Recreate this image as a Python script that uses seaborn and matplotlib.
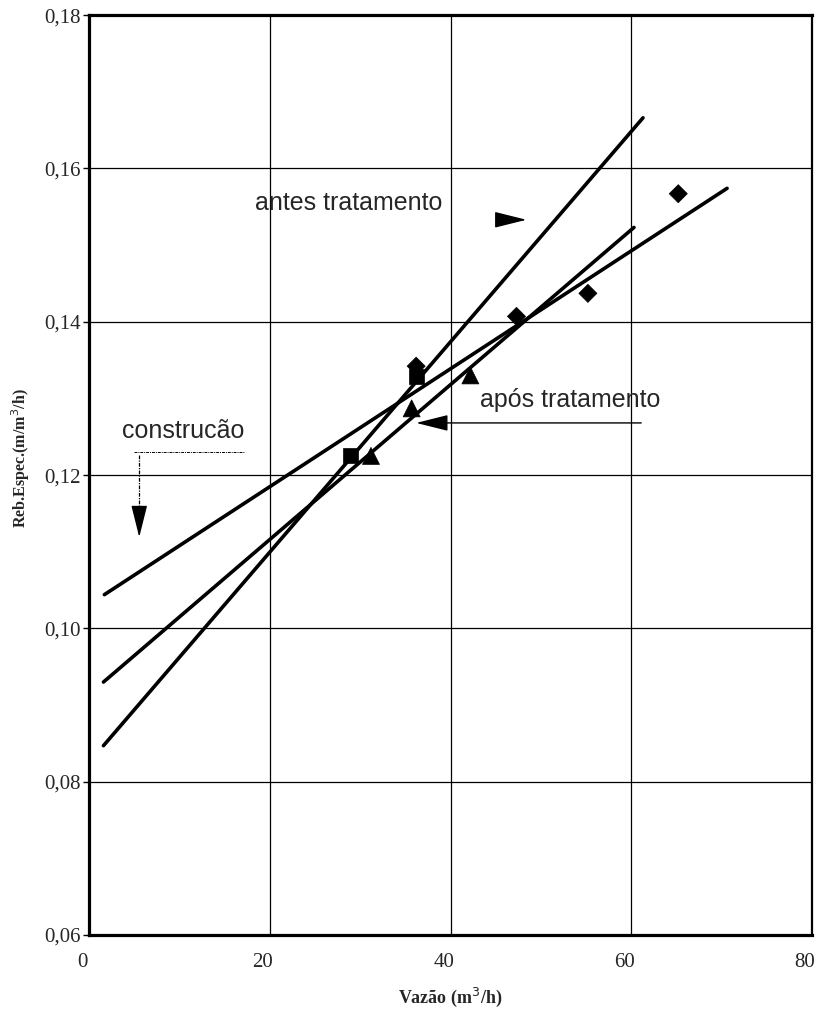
import matplotlib
matplotlib.use("Agg")
import matplotlib.pyplot as plt
import matplotlib.transforms as mtransforms
import seaborn as sns
import pandas as pd

# ---- dados ----
# construção (quadrados)
constr_x = [28.9, 36.2]
constr_y = [0.1226, 0.1329]
# após tratamento (triângulos)
apos_x = [31.2, 35.7, 42.2]
apos_y = [0.1225, 0.1287, 0.1330]
# antes tratamento (losangos)
antes_x = [36.2, 47.3, 55.2, 65.2]
antes_y = [0.1342, 0.1407, 0.1437, 0.1567]

# retas de tendência (extremos)
reta_constr_x = [1.6, 61.3]
reta_constr_y = [0.0847, 0.1666]
reta_apos_x = [1.6, 60.3]
reta_apos_y = [0.0930, 0.1523]
reta_antes_x = [1.7, 70.6]
reta_antes_y = [0.1044, 0.1574]

x_ticks = [0, 20, 40, 60, 80]
y_ticks = [0.06, 0.08, 0.10, 0.12, 0.14, 0.16, 0.18]
y_labels = ["0,06", "0,08", "0,10", "0,12", "0,14", "0,16", "0,18"]

pts = pd.concat([
    pd.DataFrame({"vazao": constr_x, "reb": constr_y, "grupo": "construcao"}),
    pd.DataFrame({"vazao": apos_x, "reb": apos_y, "grupo": "apos"}),
    pd.DataFrame({"vazao": antes_x, "reb": antes_y, "grupo": "antes"}),
])

sns.set_style("white")
plt.rcParams["font.family"] = ["Liberation Serif", "DejaVu Serif"]

fig = plt.figure(figsize=(8.18, 10.19), dpi=100)
ax = fig.add_axes([0.1088, 0.0824, 0.8839, 0.9028])

# retas
for lx, ly in [(reta_constr_x, reta_constr_y), (reta_apos_x, reta_apos_y),
               (reta_antes_x, reta_antes_y)]:
    sns.lineplot(x=lx, y=ly, ax=ax, color="black", lw=2.6, zorder=3)

# pontos
sns.scatterplot(data=pts, x="vazao", y="reb", style="grupo", size="grupo",
                markers={"construcao": "s", "apos": "^", "antes": "D"},
                sizes={"construcao": 120, "apos": 150, "antes": 85},
                color="black", edgecolor="black", linewidth=0.5,
                legend=False, ax=ax, zorder=4)

ax.set_xlim(0, 80)
ax.set_ylim(0.06, 0.18)
ax.set_xticks(x_ticks)
ax.set_xticklabels([str(v) for v in x_ticks])
ax.set_yticks(y_ticks)
ax.set_yticklabels(y_labels)
ax.grid(True, color="black", lw=0.9)
ax.set_axisbelow(True)
ax.tick_params(axis="x", length=0, pad=13, labelsize=15)
ax.tick_params(axis="y", length=4, width=1, color="black", direction="out",
               pad=2, labelsize=15, left=True)
# rótulos do eixo x levemente deslocados para a esquerda, como no original
shift = mtransforms.ScaledTranslation(-5 / 72, 0, fig.dpi_scale_trans)
for lbl in ax.get_xticklabels():
    lbl.set_transform(lbl.get_transform() + shift)

for side in ["left", "top", "bottom"]:
    ax.spines[side].set_linewidth(2.3)
    ax.spines[side].set_color("black")
ax.spines["right"].set_linewidth(1.6)
ax.spines["right"].set_color("black")

ax.set_xlabel("Vazão (m$^3$/h)", fontsize=13, fontweight="bold", labelpad=10)
ax.set_ylabel("Reb.Espec.(m/m$^3$/h)", fontsize=11.5, fontweight="bold")
ax.yaxis.set_label_coords(-0.079, 0.518)

# anotações
sans = ["Liberation Sans", "DejaVu Sans"]
head = dict(arrowstyle="-|>,head_length=1.0,head_width=0.25", color="black",
            lw=1.0, mutation_scale=20, shrinkA=0, shrinkB=0)

ax.text(18.4, 0.1546, "antes tratamento", fontsize=18, family=sans,
        ha="left", va="baseline")
ax.annotate("", xy=(48.4, 0.1533), xytext=(45.3, 0.1533), arrowprops=head)

ax.text(43.3, 0.1289, "após tratamento", fontsize=18, family=sans,
        ha="left", va="baseline")
ax.annotate("", xy=(36.2, 0.1268), xytext=(61.1, 0.1268), arrowprops=head)

ax.text(10.4, 0.1248, "construcão", fontsize=18, family=sans,
        ha="center", va="baseline")
ax.plot([5.0, 17.2], [0.1230, 0.1230], color="black", lw=0.7, ls=(0, (3, 1, 1, 1)))
ax.plot([5.56, 5.56], [0.1226, 0.1154], color="black", lw=0.9, ls=(0, (3, 1, 1, 1)))
ax.annotate("", xy=(5.56, 0.1119), xytext=(5.56, 0.1154), arrowprops=head)

fig.savefig("out.png", dpi=100)
